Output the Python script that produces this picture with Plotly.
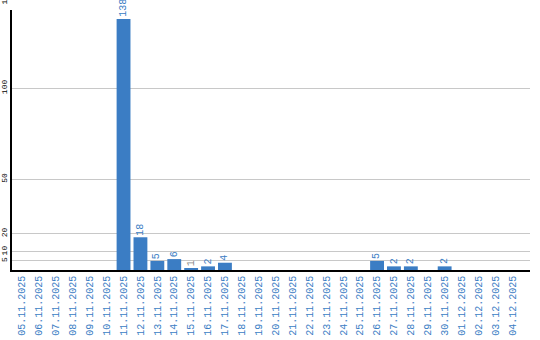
import plotly.graph_objects as go

dates = ["05.11.2025","06.11.2025","07.11.2025","08.11.2025","09.11.2025","10.11.2025",
         "11.11.2025","12.11.2025","13.11.2025","14.11.2025","15.11.2025","16.11.2025",
         "17.11.2025","18.11.2025","19.11.2025","20.11.2025","21.11.2025","22.11.2025",
         "23.11.2025","24.11.2025","25.11.2025","26.11.2025","27.11.2025","28.11.2025",
         "29.11.2025","30.11.2025","01.12.2025","02.12.2025","03.12.2025","04.12.2025"]
values = [0,0,0,0,0,0, 138,18,5,6,1,2, 4,0,0,0,0,0, 0,0,0,5,2,2, 0,2,0,0,0,0]
y_ticks = [5, 10, 20, 50, 100]

BLUE = "#3b7dc4"

fig = go.Figure(go.Bar(
    x=list(range(len(dates))), y=values,
    marker=dict(color=BLUE, line=dict(width=0)),
))

for i, v in enumerate(values):
    if v:
        txt = str(v)
        fig.add_annotation(
            x=i, y=v, text=txt, showarrow=False, textangle=-90,
            xanchor="center", yanchor="middle", yshift=len(txt) * 3 + 2,
            font=dict(family="Liberation Mono", size=10,
                      color="#888888" if v == 1 else BLUE),
        )

fig.update_layout(
    template="none",
    width=540, height=340,
    margin=dict(l=12, r=10, t=10, b=70),
    paper_bgcolor="white", plot_bgcolor="white",
    bargap=0.18,
    showlegend=False,
    font=dict(family="Liberation Mono"),
)
fig.update_xaxes(
    tickmode="array", tickvals=list(range(len(dates))), ticktext=dates,
    tickangle=-90, tickfont=dict(family="Liberation Mono", size=10, color=BLUE),
    range=[-0.6, 30.05], showgrid=False, ticks="", automargin=False,
    showline=True, linecolor="black", linewidth=1.5, zeroline=False,
)
fig.update_yaxes(
    tickmode="array", tickvals=y_ticks, ticktext=[str(t) for t in y_ticks],
    tickangle=-90, tickfont=dict(family="Liberation Mono", size=8, color="black"),
    range=[0, 143], showgrid=True, gridcolor="#c8c8c8", gridwidth=1,
    ticks="", automargin=False, showline=True, linecolor="black", linewidth=1.5,
    zeroline=False, ticklabelstandoff=0,
)
fig.add_annotation(text="150", xref="paper", yref="paper", x=0, xshift=-1, y=1.05,
                   xanchor="right", yanchor="middle", textangle=-90, showarrow=False,
                   font=dict(family="Liberation Mono", size=8, color="black"))
fig.write_html("out.html")
